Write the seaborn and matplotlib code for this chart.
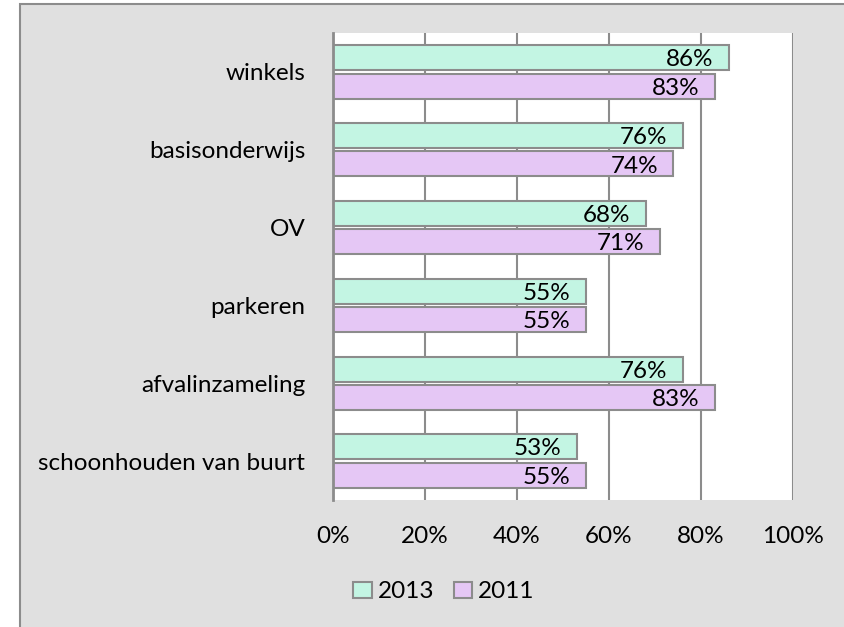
import pandas as pd
import numpy as np
import matplotlib
matplotlib.use('Agg')
import matplotlib.pyplot as plt
import matplotlib.patches as mpatches
import seaborn as sns

# Data
categories = ['winkels', 'basisonderwijs', 'OV', 'parkeren', 'afvalinzameling', 'schoonhouden van buurt']
years = ['2013', '2011']
values_2013 = [86, 76, 68, 55, 76, 53]
values_2011 = [83, 74, 71, 55, 83, 55]

df = pd.DataFrame({
    'categorie': categories * 2,
    'jaar': [years[0]] * len(categories) + [years[1]] * len(categories),
    'waarde': values_2013 + values_2011,
})

sns.set_theme(style='white')
plt.rcParams['font.family'] = ['Lato', 'DejaVu Sans']

bg = '#e0e0e0'
edge = '#8c8c8c'
colors = {'2013': '#bbfde5', '2011': '#e7bffd'}
fs = 17.5

fig = plt.figure(figsize=(8.44, 6.27), dpi=100)
fig.patch.set_facecolor('white')
# grijs grafiekvlak met rand (rechts en onder afgesneden)
fig.patches.append(mpatches.Rectangle((20 / 844, -0.05), 1.0, 1 - 4 / 627 + 0.05,
                                      transform=fig.transFigure, facecolor=bg,
                                      edgecolor=edge, linewidth=1.5, zorder=-10))

ax = fig.add_axes([333 / 844, 1 - 500 / 627, 460 / 844, 467 / 627])
ax.set_zorder(1)
ax.set_facecolor('white')

sns.barplot(data=df, y='categorie', x='waarde', hue='jaar', hue_order=years,
            palette=colors, orient='h', width=0.73, gap=0.12,
            edgecolor=edge, linewidth=1.5, ax=ax, legend=True, zorder=3)

ax.set_xlim(0, 100)
ax.set_xticks(np.arange(0, 101, 20))
ax.set_xticklabels([f'{t}%' for t in range(0, 101, 20)])
ax.xaxis.grid(True, color=edge, linewidth=1.5, zorder=0)
ax.set_axisbelow(True)
ax.tick_params(axis='x', length=0, pad=19, labelsize=fs, colors='black')
ax.tick_params(axis='y', length=0, pad=20, labelsize=fs, colors='black')
ax.set_xlabel('')
ax.set_ylabel('')
for s in ['top', 'right', 'bottom']:
    ax.spines[s].set_visible(False)
ax.spines['left'].set_color(edge)
ax.spines['left'].set_linewidth(2)
ax.spines['left'].set_zorder(4)

# datalabels binnen het einde van de balk
for cont in ax.containers:
    for p in cont.patches:
        w = p.get_width()
        ax.annotate(f'{w:.0f}%', xy=(w, p.get_y() + p.get_height() / 2),
                    xytext=(-11, -1.5), textcoords='offset points',
                    ha='right', va='center', fontsize=fs, color='black', zorder=5)

handles, labels = ax.get_legend_handles_labels()
ax.get_legend().remove()
leg = fig.legend(handles, labels, loc='center', bbox_to_anchor=(444 / 844, 1 - 592 / 627),
                 ncol=2, frameon=False, fontsize=fs, handlelength=0.75, handleheight=0.62,
                 handletextpad=0.25, columnspacing=0.8)
for t in leg.get_texts():
    t.set_color('black')

fig.savefig('out.png', dpi=100, facecolor=fig.get_facecolor())
